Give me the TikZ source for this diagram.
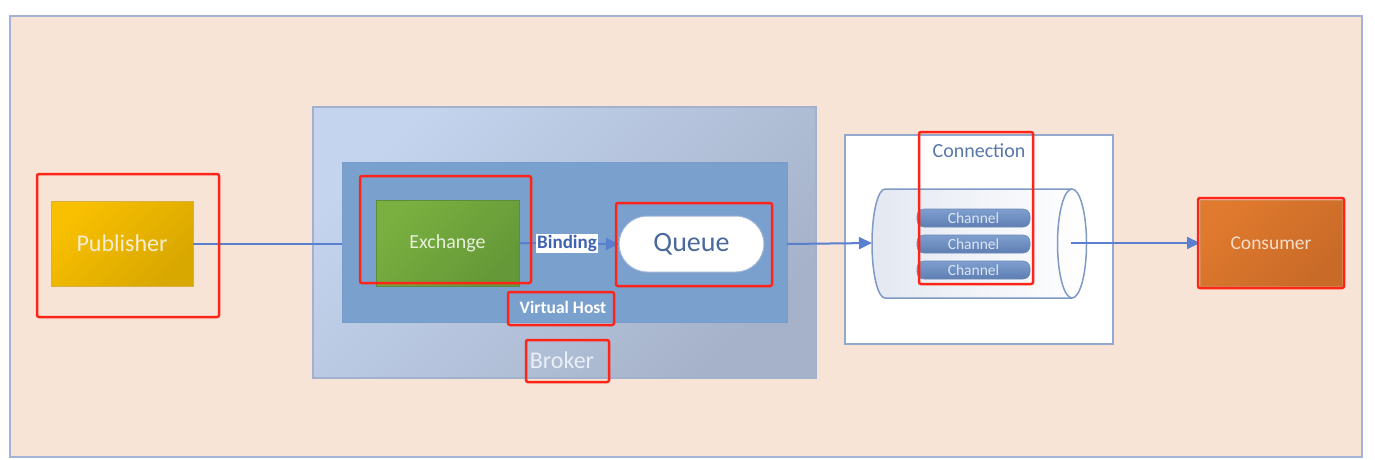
\documentclass[tikz,border=0pt]{standalone}
\usepackage{fontspec}
\setmainfont{Carlito}
\usetikzlibrary{arrows.meta}
\definecolor{bgfill}{HTML}{F7E4D6}
\definecolor{bgline}{HTML}{A4B2DA}
\definecolor{conncol}{HTML}{5A7FCF}
\definecolor{redline}{HTML}{FF2418}
\definecolor{vhfill}{HTML}{7AA0CD}
\definecolor{vhline}{HTML}{789CCA}
\definecolor{cylline}{HTML}{7F9AC4}
\definecolor{chtop}{HTML}{7F9FCF}
\definecolor{chbot}{HTML}{5E7EB3}
\definecolor{chline}{HTML}{6A88B8}
\definecolor{chtext}{HTML}{DCE5F2}
\definecolor{brline}{HTML}{A3B2CC}
\definecolor{brtop}{HTML}{C4D4EE}
\definecolor{brbot}{HTML}{A5B2C9}
\definecolor{pubtop}{HTML}{F9C000}
\definecolor{pubbot}{HTML}{D8A700}
\definecolor{publine}{HTML}{D9B040}
\definecolor{pubtext}{HTML}{F6EDD2}
\definecolor{extop}{HTML}{7AB040}
\definecolor{exbot}{HTML}{649838}
\definecolor{exline}{HTML}{5E8C38}
\definecolor{extext}{HTML}{E6F0DA}
\definecolor{qline}{HTML}{9DB3D6}
\definecolor{qtext}{HTML}{4A6A9C}
\definecolor{brtext}{HTML}{E9EEF7}
\definecolor{cbline}{HTML}{92A8CE}
\definecolor{cbtext}{HTML}{5877AC}
\definecolor{cylleft}{HTML}{E3E8F1}
\definecolor{constop}{HTML}{E07A2E}
\definecolor{consbot}{HTML}{C86A28}
\definecolor{consline}{HTML}{D08A50}
\definecolor{constext}{HTML}{F6DEC8}
\definecolor{bindtext}{HTML}{3F62B2}
\begin{document}
\begin{tikzpicture}[x=1pt,y=-1pt,
  box/.style={rectangle, inner sep=0pt, outer sep=0pt},
  redbox/.style={box, draw=redline, line width=2.5pt, rounded corners=2pt},
  conn/.style={draw=conncol, line width=2pt},
  tip/.style={-{Triangle[length=13pt,width=12pt]}},
  chan/.style={box, minimum width=113pt, minimum height=18pt, rounded corners=7pt,
     top color=chtop, bottom color=chbot, draw=chline, line width=0.6pt,
     text=chtext, font=\fontsize{15.5}{15.5}\selectfont},
]
\useasboundingbox (0,0) rectangle (1375,459);
\fill[white] (0,0) rectangle (1375,459);
% outer frame
\node[box, draw=bgline, fill=bgfill, line width=2pt, minimum width=1352pt, minimum height=441pt] (frame) at (686,236.5) {};
% broker
\node[box, draw=brline, line width=1.5pt, top color=brtop, bottom color=brbot, shading angle=45,
      minimum width=503pt, minimum height=271pt] (broker) at (564.5,242.5) {};
\node[box, fill=vhfill, draw=vhline, line width=1pt, minimum width=445pt, minimum height=160pt] (vh) at (564.5,242) {};
% publisher
\node[box, top color=pubtop, bottom color=pubbot, shading angle=45, draw=publine, line width=1pt,
      minimum width=142pt, minimum height=85pt, text=pubtext, font=\fontsize{24}{24}\selectfont] (pub) at (122,243.5) {Publisher};
% exchange
\node[box, top color=extop, bottom color=exbot, shading angle=45, draw=exline, line width=1pt,
      minimum width=143pt, minimum height=86pt, text=extext, font=\fontsize{20}{20}\selectfont] (ex) at (447.5,243) {Exchange};
% queue
\node[box, fill=white, draw=qline, line width=1pt, rounded corners=28pt,
      minimum width=145pt, minimum height=56pt, text=qtext, font=\fontsize{28}{28}\selectfont] (queue) at (691.5,244) {Queue};
% labels
\node[text=white, font=\bfseries\fontsize{17.5}{17.5}\selectfont] (vhlabel) at (563,307) {Virtual Host};
\node[text=brtext, font=\fontsize{24}{24}\selectfont] (brlabel) at (562,360) {Broker};
% connection box
\node[box, fill=white, draw=cbline, line width=1.2pt, minimum width=268pt, minimum height=209pt] (connbox) at (979,239.5) {};
\node[text=cbtext, font=\fontsize{20}{20}\selectfont] (connlabel) at (979,151) {Connection};
% cylinder
\fill[left color=cylleft, right color=white]
  (885,189) -- (1072,189) .. controls (1080,189) and (1086.5,213.4) .. (1086.5,243.5)
  .. controls (1086.5,273.6) and (1080,298) .. (1072,298) -- (885,298)
  .. controls (877.8,298) and (872,273.6) .. (872,243.5)
  .. controls (872,213.4) and (877.8,189) .. (885,189) -- cycle;
\draw[cylline, line width=1.5pt]
  (1072,189) -- (885,189) .. controls (877.8,189) and (872,213.4) .. (872,243.5)
  .. controls (872,273.6) and (877.8,298) .. (885,298) -- (1072,298);
\draw[cylline, line width=1.5pt] (1072,243.5) ellipse [x radius=14.5pt, y radius=54.5pt];
\coordinate (cylL) at (872,243);
\coordinate (cylR) at (1071,243);
% channels
\node[chan] (ch1) at (973.5,218) {Channel};
\node[chan] (ch2) at (973.5,244) {Channel};
\node[chan] (ch3) at (973.5,270) {Channel};
% consumer
\node[box, top color=constop, bottom color=consbot, shading angle=45, draw=consline, line width=1pt,
      minimum width=142pt, minimum height=86pt, text=constext, font=\fontsize{19.5}{19.5}\selectfont] (cons) at (1271,243) {Consumer};
% connectors
\draw[conn] (pub.east) -- (pub.east -| vh.west);
\draw[conn, tip] (ex.east) -- (queue.west)
  node[pos=0.48, fill=white, inner sep=1.5pt, text=bindtext, font=\bfseries\fontsize{19}{19}\selectfont] (bind) {Binding};
\draw[conn, tip] (queue.east -| vh.east) -- (cylL);
\draw[conn, tip] (cylR) -- (cons.west);
% red annotation boxes
\node[redbox, minimum width=182pt, minimum height=143pt] (rPub) at (128,245.5) {};
\node[redbox, minimum width=171pt, minimum height=107pt] (rEx) at (445.5,229.5) {};
\node[redbox, minimum width=156pt, minimum height=83pt] (rQueue) at (694,244.5) {};
\node[redbox, minimum width=106pt, minimum height=33pt] (rVh) at (561,308.5) {};
\node[redbox, minimum width=83pt, minimum height=42pt] (rBroker) at (567.5,361) {};
\node[redbox, minimum width=114pt, minimum height=152pt] (rConn) at (976,208) {};
\node[redbox, minimum width=146pt, minimum height=90pt] (rCons) at (1271,243) {};
\end{tikzpicture}
\end{document}
